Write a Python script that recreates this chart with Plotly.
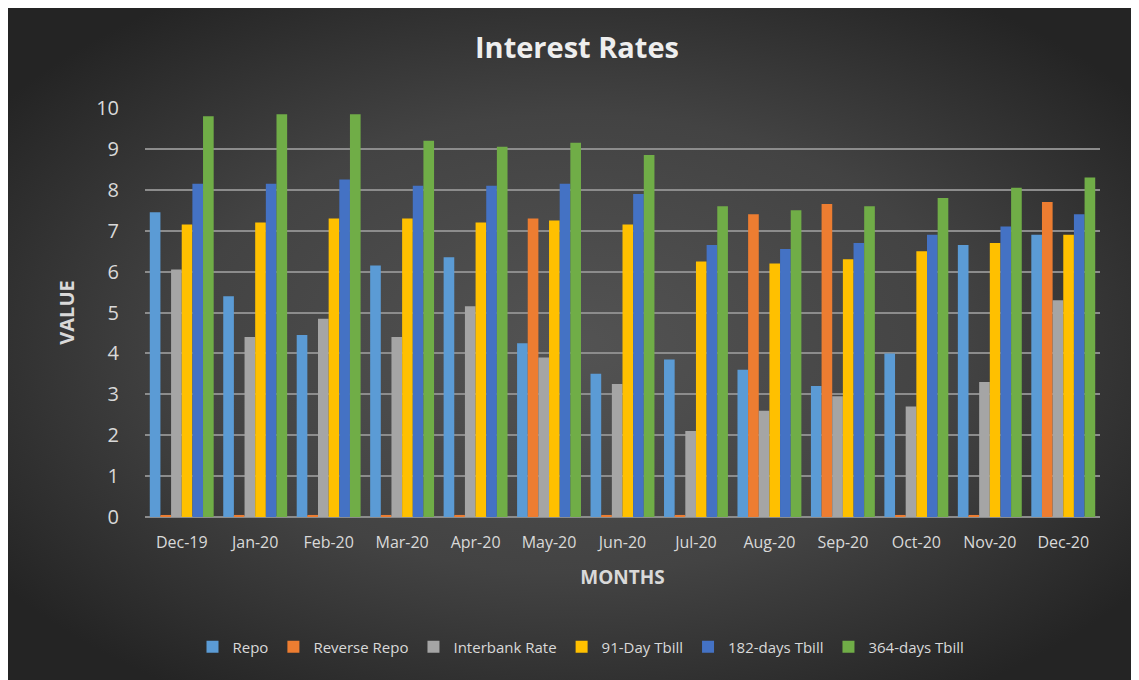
import base64
import plotly.graph_objects as go

months = ["Dec-19", "Jan-20", "Feb-20", "Mar-20", "Apr-20", "May-20", "Jun-20",
          "Jul-20", "Aug-20", "Sep-20", "Oct-20", "Nov-20", "Dec-20"]
repo = [7.45, 5.4, 4.45, 6.15, 6.35, 4.25, 3.5, 3.85, 3.6, 3.2, 4.0, 6.65, 6.9]
reverse_repo = [0.05, 0.05, 0.05, 0.05, 0.05, 7.3, 0.05, 0.05, 7.4, 7.65, 0.05, 0.05, 7.7]
interbank = [6.05, 4.4, 4.85, 4.4, 5.15, 3.9, 3.25, 2.1, 2.6, 2.95, 2.7, 3.3, 5.3]
tbill_91 = [7.15, 7.2, 7.3, 7.3, 7.2, 7.25, 7.15, 6.25, 6.2, 6.3, 6.5, 6.7, 6.9]
tbill_182 = [8.15, 8.15, 8.25, 8.1, 8.1, 8.15, 7.9, 6.65, 6.55, 6.7, 6.9, 7.1, 7.4]
tbill_364 = [9.8, 9.85, 9.85, 9.2, 9.05, 9.15, 8.85, 7.6, 7.5, 7.6, 7.8, 8.05, 8.3]

series = [
    ("Repo", repo, "#5b9bd5"),
    ("Reverse Repo", reverse_repo, "#ed7d31"),
    ("Interbank Rate", interbank, "#a5a5a5"),
    ("91-Day Tbill", tbill_91, "#ffc000"),
    ("182-days Tbill", tbill_182, "#4472c4"),
    ("364-days Tbill", tbill_364, "#70ad47"),
]

# figure sits inside the page's default 8px body margin
W, H = 1131, 672
L, R, T, B = 137, 39, 100, 163
pw, ph = W - L - R, H - T - B

svg = f'''<svg xmlns="http://www.w3.org/2000/svg" width="{W}" height="{H}" viewBox="0 0 {W} {H}" preserveAspectRatio="none">
<defs><radialGradient id="g" cx="0.5" cy="0.5" r="0.62" gradientUnits="objectBoundingBox">
<stop offset="0" stop-color="#535353"/><stop offset="0.55" stop-color="#434343"/><stop offset="1" stop-color="#242424"/>
</radialGradient></defs>
<rect width="100%" height="100%" fill="url(#g)"/></svg>'''
src = "data:image/svg+xml;base64," + base64.b64encode(svg.encode()).decode()

fig = go.Figure()
for name, vals, col in series:
    fig.add_trace(go.Bar(x=months, y=vals, name=name,
                         marker=dict(color=col, line=dict(width=0))))

fig.update_layout(
    width=W, height=H,
    margin=dict(l=L, r=R, t=T, b=B),
    paper_bgcolor="#2a2a2a",
    plot_bgcolor="rgba(0,0,0,0)",
    barmode="group", bargap=0.13, bargroupgap=0.0,
    font=dict(family="Open Sans, Lato, sans-serif", color="#d9d9d9"),
    title=dict(text="<b>Interest Rates</b>", x=(569 - L) / pw, xref="paper", xanchor="center",
               y=1 - 40 / H, yanchor="middle",
               font=dict(size=29, color="#eeeeee", family="Open Sans, sans-serif")),
    xaxis=dict(showgrid=False, showline=False, ticks="", tickfont=dict(size=16, color="#d9d9d9"),
               ticklabelstandoff=14,
               title=dict(text="<b>MONTHS</b>", font=dict(size=19, color="#d9d9d9"), standoff=18)),
    yaxis=dict(range=[0, 10], dtick=1, showgrid=True, gridcolor="#8c8c8c", gridwidth=1.6,
               zeroline=True, zerolinecolor="#8c8c8c", zerolinewidth=1.6,
               tickfont=dict(size=20, color="#d9d9d9"), ticks="", ticklabelstandoff=25,
               title=dict(text="<b>VALUE</b>", font=dict(size=20, color="#d9d9d9"), standoff=16)),
    legend=dict(orientation="h", x=(573 - L) / pw, xanchor="center", y=(H - B - 639) / ph,
                yanchor="middle", font=dict(size=15, color="#d9d9d9"),
                bgcolor="rgba(0,0,0,0)", itemwidth=30, traceorder="normal"),
    images=[dict(source=src, xref="paper", yref="paper",
                 x=-L / pw, y=1 + T / ph,
                 sizex=W / pw, sizey=H / ph,
                 sizing="stretch", layer="below", xanchor="left", yanchor="top")],
)

fig.write_html("out.html")
